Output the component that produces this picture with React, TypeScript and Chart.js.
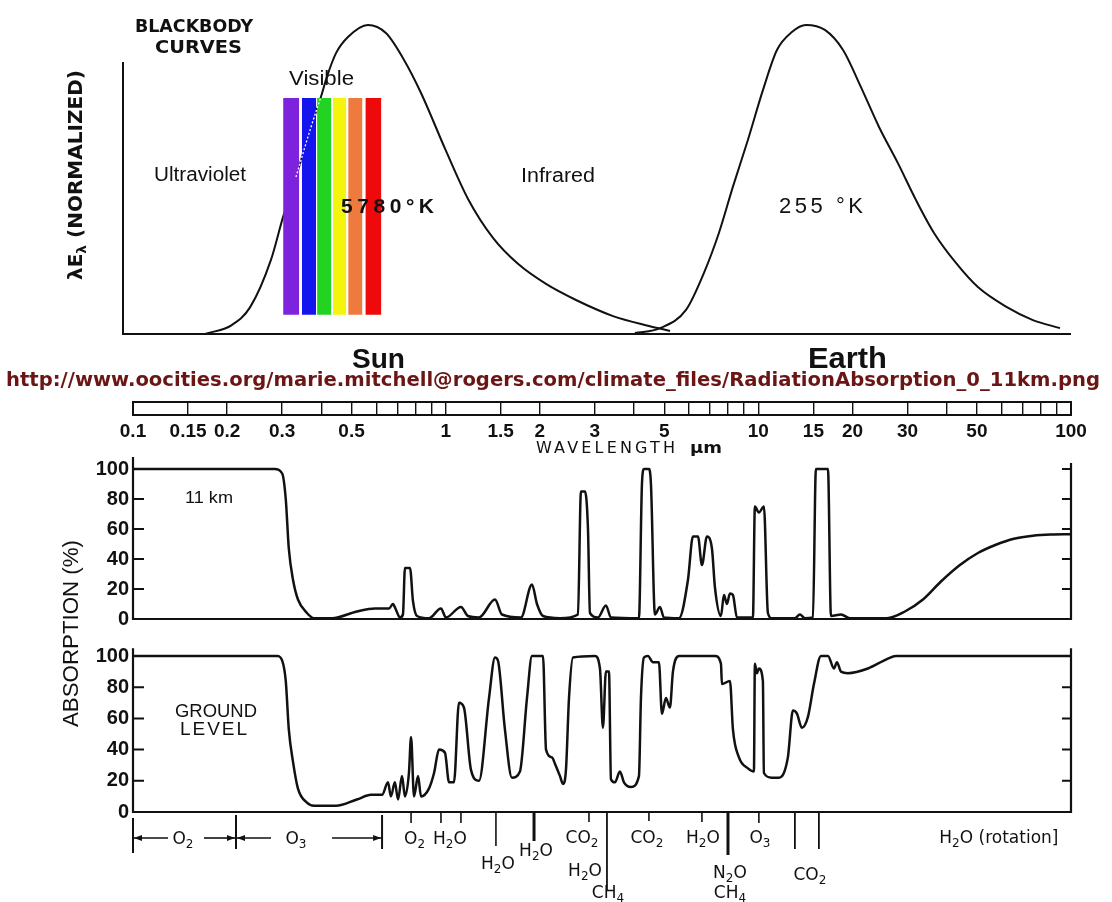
import React, { useEffect, useRef } from 'react';
import { Chart, registerables } from 'chart.js';

Chart.register(...registerables);

const INK = '#111111';

// ---------------- data: blackbody curves (normalized lambda*E_lambda) ----------------
const SUN_WL = [0.170, 0.207, 0.237, 0.276, 0.302, 0.332, 0.371, 0.399, 0.417, 0.446, 0.487, 0.564, 0.644, 0.736, 0.834, 1.00, 1.179, 1.417, 1.703, 2.094, 2.611, 3.43, 4.47, 5.22];
const SUN_VAL = [0.0, 0.029, 0.087, 0.239, 0.379, 0.508, 0.670, 0.767, 0.832, 0.909, 0.961, 1.0, 0.974, 0.887, 0.780, 0.595, 0.437, 0.311, 0.227, 0.162, 0.110, 0.058, 0.026, 0.010];
const EARTH_WL = [4.03, 4.85, 5.87, 6.70, 7.48, 8.29, 9.26, 10.35, 11.47, 12.80, 14.19, 16.33, 18.66, 21.29, 24.32, 27.95, 31.91, 36.46, 42.86, 50.37, 62.37, 75.53, 92.21];
const EARTH_VAL = [0.003, 0.019, 0.078, 0.198, 0.327, 0.476, 0.628, 0.790, 0.919, 0.977, 1.0, 0.984, 0.919, 0.799, 0.670, 0.553, 0.434, 0.327, 0.230, 0.152, 0.087, 0.045, 0.019];

// visible colour bars (wavelength edges) and their normalized top / bottom
const VIS_FROM = [0.3021, 0.3466, 0.3879, 0.4358, 0.4878, 0.5536];
const VIS_TO = [0.3403, 0.3850, 0.4310, 0.4813, 0.5419, 0.6229];
const VIS_TOP = 0.764;
const VIS_BOTTOM = 0.062;
const BB_AXIS_TOP = 0.88;
const BB_X_MIN = 0.0929;

// ---------------- data: absorption (%) ----------------
const K11_WL = [0.1, 0.284, 0.300, 0.308, 0.315, 0.325, 0.337, 0.360, 0.379, 0.433, 0.520, 0.594, 0.659, 0.678, 0.694, 0.714, 0.730, 0.741, 0.769, 0.786, 0.810, 0.884, 0.966, 1.002, 1.119, 1.179, 1.278, 1.438, 1.514, 1.741, 1.888, 1.959, 2.048, 2.321, 2.649, 2.708, 2.790, 2.852, 2.894, 3.069, 3.255, 3.378, 4.151, 4.244, 4.307, 4.468, 4.535, 4.670, 4.845, 4.990, 5.574, 5.955, 6.178, 6.410, 6.601, 6.849, 7.106, 7.265, 7.593, 7.762, 7.935, 8.113, 8.294, 8.542, 9.61, 9.75, 10.04, 10.42, 10.73, 11.05, 13.09, 13.58, 14.09, 14.95, 15.28, 16.70, 17.07, 18.38, 19.63, 25.78, 29.43, 33.61, 38.37, 44.13, 50.39, 57.53, 65.69, 75.53, 86.24, 100];
const K11_ABS = [100, 100, 97, 80, 47, 26, 13, 4, 0.5, 0.5, 5, 7, 7, 10, 6, 1, 3, 34, 34, 12, 2, 0.5, 7, 1, 8, 2, 1, 13, 3, 1, 23, 10, 2, 0.5, 3, 85, 85, 60, 4, 1, 9, 1, 0.5, 90, 100, 100, 90, 3, 8, 1, 0.5, 26, 55, 55, 36, 55, 47, 21, 2, 16, 10, 17, 16, 1, 1, 75, 71, 75, 4, 0.5, 0.5, 3, 0.5, 1, 100, 100, 2, 3, 0.5, 0.5, 5, 13, 25, 36, 44, 49.5, 53.5, 55.5, 56.3, 56.5];

const GROUND_WL = [0.1, 0.289, 0.300, 0.308, 0.315, 0.325, 0.337, 0.360, 0.379, 0.446, 0.520, 0.577, 0.626, 0.654, 0.668, 0.688, 0.704, 0.725, 0.741, 0.763, 0.775, 0.792, 0.816, 0.834, 0.884, 0.918, 0.952, 0.995, 1.025, 1.063, 1.103, 1.144, 1.205, 1.278, 1.376, 1.438, 1.470, 1.547, 1.629, 1.728, 1.820, 1.888, 2.048, 2.094, 2.188, 2.236, 2.321, 2.372, 2.425, 2.480, 2.553, 3.002, 3.115, 3.184, 3.255, 3.329, 3.378, 3.479, 3.609, 3.717, 3.913, 4.151, 4.213, 4.307, 4.436, 4.602, 4.809, 4.917, 5.064, 5.215, 5.332, 5.574, 7.265, 7.593, 7.649, 8.113, 8.294, 8.670, 9.262, 9.68, 9.75, 9.90, 10.04, 10.34, 10.42, 11.05, 11.64, 12.43, 12.90, 13.29, 13.78, 14.41, 15.06, 15.86, 16.70, 17.45, 17.84, 18.38, 19.34, 22.41, 25.78, 27.54, 100];
const GROUND_ABS = [100, 100, 97, 84, 53, 32, 15, 6, 4, 4, 8, 11, 11, 19, 10, 19, 8, 23, 10, 25, 48, 10, 23, 10, 15, 25, 40, 38, 19, 19, 70, 67, 27, 20, 73, 99, 97, 53, 22, 26, 73, 100, 100, 40, 35, 31, 23, 18, 27, 73, 99, 100, 92, 54, 90, 90, 21, 19, 26, 19, 16, 23, 73, 99, 100, 96, 96, 63, 73, 67, 90, 100, 100, 95, 82, 84, 53, 35, 28, 26, 95, 89, 92, 84, 25, 22, 22, 35, 65, 63, 54, 61, 82, 100, 100, 92, 96, 90, 89, 92, 98, 100, 100];

const ABS_TICKS = [0, 20, 40, 60, 80, 100];
const K11_LEFT_TOP = 108;
const K11_RIGHT_TOP = 104;
const GROUND_AXIS_TOP = 105;

// ---------------- wavelength scale bar ----------------
const SCALE_DIVIDERS = [0.1, 0.15, 0.2, 0.3, 0.4, 0.5, 0.6, 0.7, 0.8, 0.9, 1, 1.5, 2, 3, 4, 5, 6, 7, 8, 9, 10, 15, 20, 30, 40, 50, 60, 70, 80, 90, 100];
const SCALE_LABELS = [0.1, 0.15, 0.2, 0.3, 0.5, 1, 1.5, 2, 3, 5, 10, 15, 20, 30, 50, 100];

// ---------------- absorbing-gas annotations ----------------
const BAND_TICK_WL = [0.1, 0.2135, 0.626, 0.775, 0.966, 1.119, 1.448, 1.917, 2.873, 3.28, 4.468, 6.601, 7.997, 10.04, 13.09, 15.62];
const BAND_LABEL_TEXT = ['O2', 'O3', 'O2', 'H2O', 'H2O', 'H2O', 'CO2', 'H2O', 'CH4', 'CO2', 'H2O', 'N2O', 'CH4', 'O3', 'CO2', 'H2O (rotation]'];
const BAND_LABEL_WL = [0.1445, 0.332, 0.795, 1.032, 1.470, 1.945, 2.729, 2.790, 3.304, 4.403, 6.651, 8.113, 8.113, 10.12, 14.62, 58.8];
const ARROW_FROM = [0.1, 0.1687, 0.2135, 0.433];
const ARROW_TO = [0.1294, 0.2135, 0.2763, 0.626];

// ---------------- styles ----------------
const VIS_COLORS = ['#7d22dd', '#1414ee', '#22d322', '#f4f40c', '#ef7a3e', '#ee0a0a'];
const BAND_TICK_Y0 = [6, 3, 3, 0, 0, 0, 0, 0, 0, 0, 0, 0, 0, 0, 0, 0];
const BAND_TICK_Y1 = [41, 37, 37, 11, 11, 11, 34, 29, 10, 78, 9, 10, 43, 11, 37, 37];
const BAND_TICK_W = [2, 2, 2, 1.6, 1.6, 1.6, 1.6, 3, 1.6, 1.8, 1.6, 1.6, 3, 1.6, 1.8, 1.8];
const BAND_LABEL_DY = [26, 26, 26, 26, 51, 38, 25, 58, 80, 25, 25, 60, 80, 25, 62, 25];
const ARROW_HEAD = ['start', 'end', 'start', 'end'];
const ARROW_DY = 26;
const LABEL_FONT = '17px "DejaVu Sans"';
const SUB_FONT = '12px "DejaVu Sans"';
const AXIS_FONT = { family: 'Liberation Sans', size: 20, weight: 'bold' as const };

const pts = (xs: number[], ys: number[]) => xs.map((x, i) => ({ x, y: ys[i] }));

// ---------------- plugins ----------------
const framePlugin: any = {
  id: 'frame',
  afterDatasetsDraw(chart: any, _a: any, o: any) {
    const { ctx, chartArea: a, scales } = chart;
    const ys = scales.y;
    const y0 = ys.getPixelForValue(0);
    ctx.save();
    ctx.strokeStyle = INK;
    ctx.lineWidth = o.lineWidth;
    ctx.lineJoin = 'miter';
    ctx.beginPath();
    ctx.moveTo(a.left, ys.getPixelForValue(o.leftTop));
    ctx.lineTo(a.left, y0);
    ctx.lineTo(a.right, y0);
    if (o.rightTop != null) ctx.lineTo(a.right, ys.getPixelForValue(o.rightTop));
    ctx.stroke();
    if (o.ticks) {
      ctx.lineWidth = o.tickWidth;
      ctx.beginPath();
      for (const v of o.ticks) {
        if (v === 0) continue;
        const py = ys.getPixelForValue(v);
        ctx.moveTo(a.left, py);
        ctx.lineTo(a.left + o.tickLen, py);
        ctx.moveTo(a.right, py);
        ctx.lineTo(a.right - o.rightTickLen, py);
      }
      ctx.stroke();
    }
    ctx.restore();
  },
};

const boxPlugin: any = {
  id: 'box',
  afterDraw(chart: any, _a: any, o: any) {
    const { ctx, chartArea: a } = chart;
    ctx.save();
    ctx.strokeStyle = INK;
    ctx.lineWidth = o.lineWidth;
    ctx.strokeRect(a.left, a.top, a.right - a.left, a.bottom - a.top);
    ctx.restore();
  },
};

function drawFormula(ctx: CanvasRenderingContext2D, text: string, cx: number, cy: number) {
  const segs = text.split(/(\d)/).filter((s) => s.length > 0).map((s) => ({ s, sub: /^\d$/.test(s) }));
  const widths = segs.map((g) => {
    ctx.font = g.sub ? SUB_FONT : LABEL_FONT;
    return ctx.measureText(g.s).width;
  });
  const total = widths.reduce((p, w) => p + w, 0);
  let xx = cx - total / 2;
  const base = cy + 6;
  segs.forEach((g, k) => {
    ctx.font = g.sub ? SUB_FONT : LABEL_FONT;
    ctx.fillText(g.s, xx, g.sub ? base + 4 : base);
    xx += widths[k];
  });
}

const bandsPlugin: any = {
  id: 'bands',
  afterDraw(chart: any) {
    const { ctx, scales } = chart;
    const xs = scales.x;
    const y0 = scales.y.getPixelForValue(0);
    ctx.save();
    ctx.strokeStyle = INK;
    ctx.fillStyle = INK;
    ctx.textBaseline = 'alphabetic';
    BAND_TICK_WL.forEach((wl, i) => {
      const px = xs.getPixelForValue(wl);
      ctx.lineWidth = BAND_TICK_W[i];
      ctx.beginPath();
      ctx.moveTo(px, y0 + BAND_TICK_Y0[i]);
      ctx.lineTo(px, y0 + BAND_TICK_Y1[i]);
      ctx.stroke();
    });
    const ay = y0 + ARROW_DY;
    ARROW_FROM.forEach((a, i) => {
      const p1 = xs.getPixelForValue(a);
      const p2 = xs.getPixelForValue(ARROW_TO[i]);
      ctx.lineWidth = 1.6;
      ctx.beginPath();
      ctx.moveTo(p1, ay);
      ctx.lineTo(p2, ay);
      ctx.stroke();
      const tip = ARROW_HEAD[i] === 'start' ? p1 + 1 : p2 - 1;
      const dir = ARROW_HEAD[i] === 'start' ? 1 : -1;
      ctx.beginPath();
      ctx.moveTo(tip, ay);
      ctx.lineTo(tip + dir * 8, ay - 3);
      ctx.lineTo(tip + dir * 8, ay + 3);
      ctx.closePath();
      ctx.fill();
    });
    BAND_LABEL_TEXT.forEach((t, i) => {
      drawFormula(ctx, t, xs.getPixelForValue(BAND_LABEL_WL[i]), y0 + BAND_LABEL_DY[i]);
    });
    ctx.restore();
  },
};

// ---------------- chart configs ----------------
const BASE_OPTS = {
  responsive: false,
  animation: false,
  events: [] as string[],
};

function topConfig(): any {
  const sun = pts(SUN_WL, SUN_VAL);
  const earth = pts(EARTH_WL, EARTH_VAL);
  const dotted = sun.filter((p) => p.x >= VIS_FROM[0] && p.x <= VIS_TO[VIS_TO.length - 1] && p.y <= VIS_TOP + 0.01);
  const bands = VIS_FROM.map((a, i) => ({
    data: [{ x: a, y: VIS_TOP }, { x: VIS_TO[i], y: VIS_TOP }],
    borderWidth: 0,
    borderColor: 'transparent',
    backgroundColor: VIS_COLORS[i],
    fill: { value: VIS_BOTTOM },
    pointRadius: 0,
    tension: 0,
    clip: false,
    order: 1,
  }));
  return {
    type: 'line',
    data: {
      datasets: [
        { data: dotted, borderColor: '#ffffff', borderWidth: 1.3, borderDash: [2, 2], pointRadius: 0, cubicInterpolationMode: 'monotone', fill: false, clip: false, order: 0 },
        ...bands,
        { data: sun, borderColor: INK, borderWidth: 2, pointRadius: 0, cubicInterpolationMode: 'monotone', fill: false, clip: false, order: 2 },
        { data: earth, borderColor: INK, borderWidth: 2, pointRadius: 0, cubicInterpolationMode: 'monotone', fill: false, clip: false, order: 2 },
      ],
    },
    options: {
      ...BASE_OPTS,
      layout: { padding: { left: 123, right: 41, top: 25, bottom: 11 } },
      scales: {
        x: { type: 'logarithmic', min: BB_X_MIN, max: 100, display: false },
        y: { type: 'linear', min: 0, max: 1, display: false },
      },
      plugins: {
        legend: { display: false },
        tooltip: { enabled: false },
        frame: { leftTop: BB_AXIS_TOP, lineWidth: 2 },
      },
    },
    plugins: [framePlugin],
  };
}

function scaleConfig(): any {
  return {
    type: 'line',
    data: { datasets: [] },
    options: {
      ...BASE_OPTS,
      layout: { padding: { left: 133, right: 41, top: 7, bottom: 0 } },
      scales: {
        x: {
          type: 'logarithmic',
          min: 0.1,
          max: 100,
          position: 'bottom',
          afterBuildTicks: (s: any) => {
            s.ticks = SCALE_DIVIDERS.map((v) => ({ value: v }));
          },
          afterFit: (s: any) => {
            s.height = 40;
          },
          grid: { display: true, drawOnChartArea: true, drawTicks: false, color: INK, lineWidth: 1.4 },
          border: { display: false },
          ticks: {
            autoSkip: false,
            maxRotation: 0,
            minRotation: 0,
            padding: 5,
            color: INK,
            font: { family: 'Liberation Sans', size: 19, weight: 'bold' },
            callback: (v: number) => (SCALE_LABELS.indexOf(v) >= 0 ? String(v) : ''),
          },
        },
        y: { display: false, min: 0, max: 1 },
      },
      plugins: { legend: { display: false }, tooltip: { enabled: false }, box: { lineWidth: 2 } },
    },
    plugins: [boxPlugin],
  };
}

function absConfig(wl: number[], vals: number[], leftTop: number, rightTop: number, padTop: number, padBottom: number, extra: any[]): any {
  return {
    type: 'line',
    data: {
      datasets: [
        { data: pts(wl, vals), borderColor: INK, borderWidth: 2.5, pointRadius: 0, cubicInterpolationMode: 'monotone', fill: false, clip: false },
      ],
    },
    options: {
      ...BASE_OPTS,
      layout: { padding: { left: 90, right: 41, top: padTop, bottom: padBottom } },
      scales: {
        x: { type: 'logarithmic', min: 0.1, max: 100, display: false },
        y: {
          type: 'linear',
          min: 0,
          max: 100,
          position: 'left',
          afterFit: (s: any) => {
            s.width = 43;
          },
          afterBuildTicks: (s: any) => {
            s.ticks = ABS_TICKS.map((v) => ({ value: v }));
          },
          grid: { display: false, drawTicks: false },
          border: { display: false },
          ticks: { color: INK, padding: 4, font: AXIS_FONT },
        },
      },
      plugins: {
        legend: { display: false },
        tooltip: { enabled: false },
        frame: { leftTop, rightTop, ticks: ABS_TICKS, tickLen: 11, rightTickLen: 9, tickWidth: 2, lineWidth: 2.2 },
      },
    },
    plugins: [framePlugin, ...extra],
  };
}

const k11Config = () => absConfig(K11_WL, K11_ABS, K11_LEFT_TOP, K11_RIGHT_TOP, 19, 12, []);
const groundConfig = () => absConfig(GROUND_WL, GROUND_ABS, GROUND_AXIS_TOP, GROUND_AXIS_TOP, 15, 90, [bandsPlugin]);

function ChartCanvas({ make, left, top, width, height }: { make: () => any; left: number; top: number; width: number; height: number }) {
  const ref = useRef<HTMLCanvasElement | null>(null);
  useEffect(() => {
    const chart = new Chart(ref.current as HTMLCanvasElement, make());
    return () => chart.destroy();
  }, []);
  return <canvas ref={ref} width={width} height={height} style={{ position: 'absolute', left, top, width, height }} />;
}

const SANS = 'Liberation Sans';
const DEJA = 'DejaVu Sans';

export default function App() {
  return (
    <div style={{ position: 'absolute', left: 0, top: 0, width: 1112, height: 902, background: '#ffffff', overflow: 'hidden' }}>
      <ChartCanvas make={topConfig} left={0} top={0} width={1112} height={345} />
      <ChartCanvas make={scaleConfig} left={0} top={395} width={1112} height={60} />
      <ChartCanvas make={k11Config} left={0} top={450} width={1112} height={185} />
      <ChartCanvas make={groundConfig} left={0} top={640} width={1112} height={262} />
      <svg width={1112} height={902} style={{ position: 'absolute', left: 0, top: 0, pointerEvents: 'none' }}>
        <g fill={INK}>
          <text x={135} y={32} textLength={118} lengthAdjust="spacingAndGlyphs" fontFamily={DEJA} fontWeight="bold" fontSize={18}>BLACKBODY</text>
          <text x={155} y={53} textLength={87} lengthAdjust="spacingAndGlyphs" fontFamily={DEJA} fontWeight="bold" fontSize={18}>CURVES</text>
          <text transform="translate(82,280) rotate(-90)" x={0} y={0} textLength={210} lengthAdjust="spacingAndGlyphs" fontFamily={DEJA} fontWeight="bold" fontSize={19}>
            λE<tspan dy={4} fontSize={13}>λ</tspan><tspan dy={-4}> (NORMALIZED)</tspan>
          </text>
          <text x={289} y={85} textLength={65} lengthAdjust="spacingAndGlyphs" fontFamily={SANS} fontSize={20}>Visible</text>
          <text x={154} y={181} textLength={92} lengthAdjust="spacingAndGlyphs" fontFamily={SANS} fontSize={20}>Ultraviolet</text>
          <text x={521} y={182} textLength={74} lengthAdjust="spacingAndGlyphs" fontFamily={SANS} fontSize={20}>Infrared</text>
          <text x={341} y={213} textLength={93} lengthAdjust="spacing" fontFamily={SANS} fontWeight="bold" fontSize={21}>5780°K</text>
          <text x={779} y={213} textLength={84} lengthAdjust="spacing" fontFamily={SANS} fontSize={22}>255 °K</text>
          <text x={352} y={368} textLength={53} lengthAdjust="spacingAndGlyphs" fontFamily={SANS} fontWeight="bold" fontSize={28}>Sun</text>
          <text x={808} y={368} textLength={79} lengthAdjust="spacingAndGlyphs" fontFamily={SANS} fontWeight="bold" fontSize={29}>Earth</text>
          <text x={6} y={386} textLength={1094} lengthAdjust="spacingAndGlyphs" fontFamily={DEJA} fontWeight="bold" fontSize={19} fill="#6b1515">http://www.oocities.org/marie.mitchell@rogers.com/climate_files/RadiationAbsorption_0_11km.png</text>
          <text x={536} y={453} textLength={139} lengthAdjust="spacing" fontFamily={DEJA} fontSize={16}>WAVELENGTH</text>
          <text x={690} y={453} textLength={32} lengthAdjust="spacingAndGlyphs" fontFamily={DEJA} fontWeight="bold" fontSize={16}>µm</text>
          <text transform="translate(78,727) rotate(-90)" x={0} y={0} textLength={187} lengthAdjust="spacingAndGlyphs" fontFamily={SANS} fontSize={22}>ABSORPTION (%)</text>
          <text x={185} y={503} textLength={48} lengthAdjust="spacingAndGlyphs" fontFamily={SANS} fontSize={17}>11 km</text>
          <text x={175} y={717} textLength={82} lengthAdjust="spacingAndGlyphs" fontFamily={SANS} fontSize={19}>GROUND</text>
          <text x={180} y={735} textLength={67} lengthAdjust="spacing" fontFamily={SANS} fontSize={19}>LEVEL</text>
        </g>
      </svg>
    </div>
  );
}
